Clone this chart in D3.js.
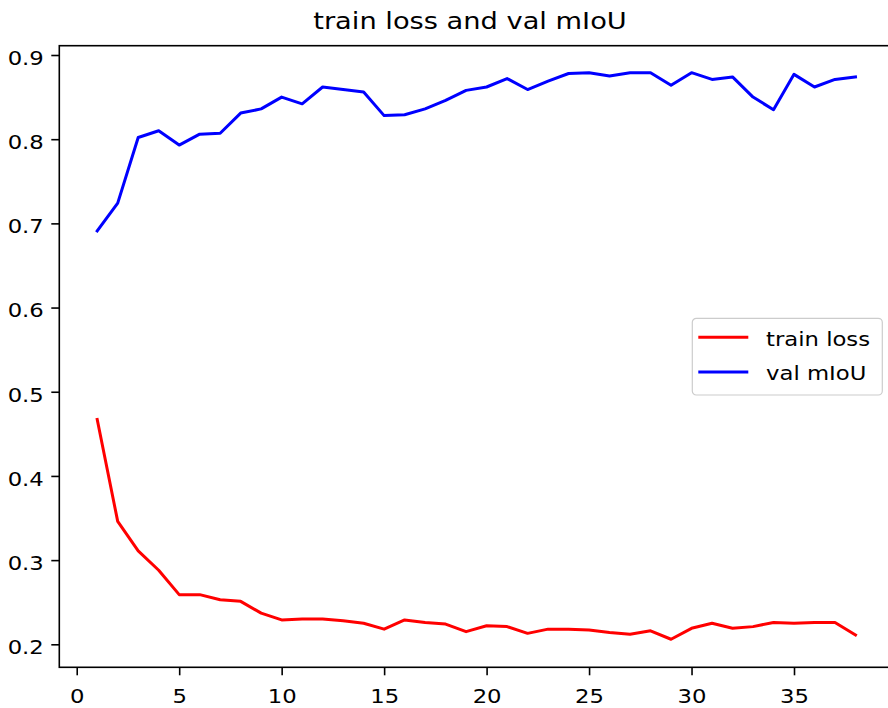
<!DOCTYPE html>
<html>
<head>
<meta charset="utf-8">
<script src="https://cdn.jsdelivr.net/npm/d3@7"></script>
<style>
  html, body { margin: 0; padding: 0; background: #fff; }
  svg { display: block; }
  text { font-family: "DejaVu Sans", sans-serif; fill: #000; }
</style>
</head>
<body>
<svg id="chart" width="888" height="708"></svg>
<script>
'use strict';

/**
 * Chart data
 */
const epochs = [1, 2, 3, 4, 5, 6, 7, 8, 9, 10, 11, 12, 13, 14, 15, 16, 17, 18, 19,
  20, 21, 22, 23, 24, 25, 26, 27, 28, 29, 30, 31, 32, 33, 34, 35, 36, 37, 38];

const trainLoss = [0.467, 0.346, 0.311, 0.288, 0.259, 0.259, 0.253, 0.251, 0.237, 0.229,
  0.230, 0.230, 0.228, 0.225, 0.218, 0.229, 0.226, 0.224, 0.215, 0.222,
  0.221, 0.213, 0.218, 0.218, 0.217, 0.214, 0.212, 0.216, 0.206, 0.219,
  0.225, 0.219, 0.221, 0.226, 0.225, 0.226, 0.226, 0.211];

const valMiou = [0.691, 0.724, 0.802, 0.810, 0.793, 0.806, 0.807, 0.831, 0.836, 0.850,
  0.842, 0.862, 0.859, 0.856, 0.828, 0.829, 0.836, 0.846, 0.858, 0.862,
  0.872, 0.859, 0.869, 0.878, 0.879, 0.875, 0.879, 0.879, 0.864, 0.879,
  0.871, 0.874, 0.850, 0.835, 0.877, 0.862, 0.871, 0.874];

const xTicks = [0, 5, 10, 15, 20, 25, 30, 35];
const yTicks = [0.2, 0.3, 0.4, 0.5, 0.6, 0.7, 0.8, 0.9];

const titleText = 'train loss and val mIoU';
const seriesNames = ['train loss', 'val mIoU'];
const seriesColors = ['#ff0000', '#0000ff'];

/**
 * Layout
 */
// the source picture is a bit wider than tall, text is stretched sideways
const SX = 1.16;
const FONT = 19.6;
const plot = {left: 59.3, right: 893.4, top: 45.7, bottom: 667.3};

const svg = d3.select('#chart');

const x = d3.scaleLinear().domain([-0.85, 39.85]).range([plot.left, plot.right]);
const y = d3.scaleLinear().domain([0.17268, 0.91105]).range([plot.bottom, plot.top]);

// lines
const line = d3.line()
  .x((d, i) => x(epochs[i]))
  .y(d => y(d));

[trainLoss, valMiou].forEach((series, i) => {
  svg.append('path')
    .attr('d', line(series))
    .attr('fill', 'none')
    .attr('stroke', seriesColors[i])
    .attr('stroke-width', 3)
    .attr('stroke-linejoin', 'round')
    .attr('stroke-linecap', 'square');
});

// axes
const xAxis = d3.axisBottom(x)
  .tickValues(xTicks)
  .tickFormat(d3.format('d'))
  .tickSize(8)
  .tickSizeOuter(0)
  .tickPadding(6);

const yAxis = d3.axisLeft(y)
  .tickValues(yTicks)
  .tickFormat(d3.format('.1f'))
  .tickSize(8)
  .tickSizeOuter(0);

const gx = svg.append('g')
  .attr('transform', `translate(0,${plot.bottom})`)
  .call(xAxis);

const gy = svg.append('g')
  .attr('transform', `translate(${plot.left},0)`)
  .call(yAxis);

[gx, gy].forEach(g => {
  g.select('.domain').remove();
  g.selectAll('.tick line').attr('stroke', '#000').attr('stroke-width', 1.6);
  g.selectAll('.tick text')
    .attr('font-family', '"DejaVu Sans", sans-serif')
    .attr('font-size', FONT)
    .attr('fill', '#000');
});

gx.selectAll('.tick text')
  .attr('dy', null)
  .attr('y', 35.4)
  .attr('transform', `scale(${SX},1)`);

gy.selectAll('.tick text')
  .attr('dy', null)
  .attr('y', 9.3)
  .attr('x', -15.5 / SX)
  .attr('transform', `scale(${SX},1)`);

// spines
svg.append('rect')
  .attr('x', plot.left)
  .attr('y', plot.top)
  .attr('width', plot.right - plot.left)
  .attr('height', plot.bottom - plot.top)
  .attr('fill', 'none')
  .attr('stroke', '#000')
  .attr('stroke-width', 1.6);

// title
svg.append('text')
  .attr('transform', `translate(470,28.5) scale(${SX},1)`)
  .attr('text-anchor', 'middle')
  .attr('font-size', 23.5)
  .text(titleText);

// legend
const legend = svg.append('g').attr('transform', 'translate(692.3,318.3)');

legend.append('rect')
  .attr('width', 190)
  .attr('height', 76.7)
  .attr('rx', 4)
  .attr('fill', '#fff')
  .attr('fill-opacity', 0.8)
  .attr('stroke', '#cccccc')
  .attr('stroke-width', 1.2);

seriesNames.forEach((name, i) => {
  const rowY = 19 + i * 34.7;
  legend.append('line')
    .attr('x1', 7.5)
    .attr('x2', 54.5)
    .attr('y1', rowY)
    .attr('y2', rowY)
    .attr('stroke', seriesColors[i])
    .attr('stroke-width', 3)
    .attr('stroke-linecap', 'square');
  legend.append('text')
    .attr('transform', `translate(73.7,${rowY + 8.4}) scale(${SX},1)`)
    .attr('font-size', FONT)
    .text(name);
});
</script>
</body>
</html>
